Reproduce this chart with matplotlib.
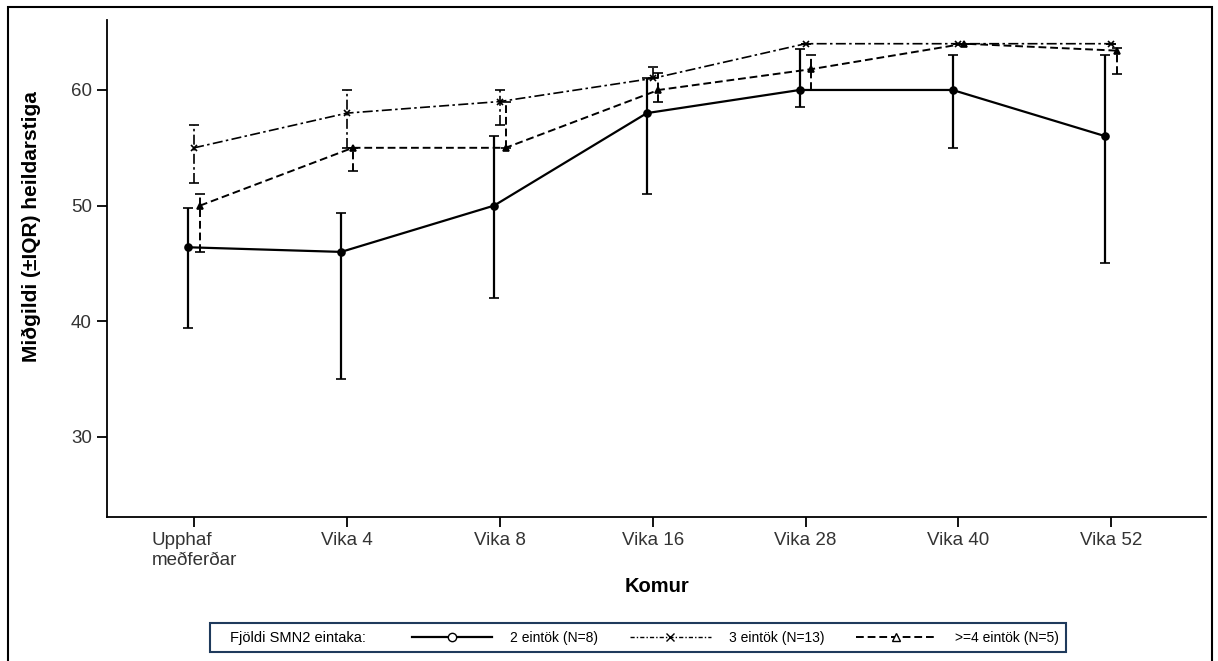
import matplotlib
matplotlib.use('Agg')
import matplotlib.pyplot as plt
import numpy as np
from matplotlib.lines import Line2D
from matplotlib.patches import Rectangle

plt.rcParams['font.family'] = ['Liberation Sans', 'DejaVu Sans']

visits = ['Upphaf\nmeðferðar', 'Vika 4', 'Vika 8', 'Vika 16', 'Vika 28', 'Vika 40', 'Vika 52']

# 2 eintök (N=8)
median_2 = [46.4, 46.0, 50.0, 58.0, 60.0, 60.0, 56.0]
q1_2 = [39.4, 35.0, 42.0, 51.0, 58.5, 55.0, 45.0]
q3_2 = [49.8, 49.4, 56.0, 61.0, 63.5, 63.0, 63.0]

# 3 eintök (N=13)
median_3 = [55.0, 58.0, 59.0, 61.0, 64.0, 64.0, 64.0]
q1_3 = [52.0, 55.0, 57.0, 61.0, 64.0, 64.0, 64.0]
q3_3 = [57.0, 60.0, 60.0, 62.0, 64.0, 64.0, 64.0]

# >=4 eintök (N=5)
median_4 = [50.0, 55.0, 55.0, 60.0, 61.8, 64.0, 63.4]
q1_4 = [46.0, 53.0, 55.0, 59.0, 60.0, 64.0, 61.4]
q3_4 = [51.0, 55.0, 59.0, 61.5, 63.0, 64.0, 63.6]

labels = ['2 eintök (N=8)', '3 eintök (N=13)', '>=4 eintök (N=5)']

series = [
    (median_2, q1_2, q3_2, -0.038, '-', 'o', 1.6),
    (median_3, q1_3, q3_3, 0.0, (0, (6, 2, 1.5, 2)), 'x', 1.2),
    (median_4, q1_4, q3_4, 0.038, (0, (4, 2)), '^', 1.4),
]

fig = plt.figure(figsize=(12.18, 6.61), dpi=100)
ax = fig.add_axes([107 / 1218, 1 - 517 / 661, (1206 - 107) / 1218, (517 - 20) / 661])

x = np.arange(len(visits))
for med, q1, q3, off, ls, mk, lw in series:
    med = np.array(med)
    err = [med - np.array(q1), np.array(q3) - med]
    cont = ax.errorbar(x + off, med, yerr=err, color='black', linestyle=ls, linewidth=lw,
                       marker=mk, markersize=5, markeredgewidth=1.2,
                       capsize=3.5, capthick=1.4, elinewidth=lw)
    for bar in cont.lines[2]:
        bar.set_linestyle(ls)

ax.set_xlim(-0.57, 6.62)
ax.set_ylim(23.08, 66.05)
ax.set_yticks([30, 40, 50, 60])
ax.set_xticks(x)
ax.set_xticklabels(visits, multialignment='left')
ax.tick_params(labelsize=13.5, labelcolor='#333333', width=1.3, length=7, pad=4)
ax.spines['top'].set_visible(False)
ax.spines['right'].set_visible(False)
ax.spines['left'].set_linewidth(1.3)
ax.spines['bottom'].set_linewidth(1.3)
ax.set_xlabel('Komur', fontsize=14.5, fontweight='bold', labelpad=6)
ax.set_ylabel('Miðgildi (±IQR) heildarstiga', fontsize=15, fontweight='bold')
ax.yaxis.set_label_coords(-0.060, 0.585)

# outer frame
fig.patches.append(Rectangle((8 / 1218, -0.01), (1212 - 8) / 1218, 1.01 - 7 / 661,
                             transform=fig.transFigure, fill=False, edgecolor='black', linewidth=1.5))

# legend box
fig.patches.append(Rectangle((210 / 1218, 1 - 652 / 661), (1066 - 210) / 1218, 29 / 661,
                             transform=fig.transFigure, fill=False, edgecolor='#1f3a5c', linewidth=1.5))
fig.text(230 / 1218, 1 - 638 / 661, 'Fjöldi SMN2 eintaka:', fontsize=10.5, va='center')

handles = [
    Line2D([], [], color='black', linestyle='-', linewidth=1.6, marker='o', markersize=6, markerfacecolor='white'),
    Line2D([], [], color='black', linestyle=(0, (3, 1.5, 1, 1.5)), linewidth=1.0, marker='x', markersize=6),
    Line2D([], [], color='black', linestyle=(0, (4, 2)), linewidth=1.4, marker='^', markersize=6, markerfacecolor='white'),
]
fig.legend(handles, labels, loc='center left', bbox_to_anchor=(399 / 1218, 1 - 638 / 661),
           ncol=3, frameon=False, fontsize=10, handlelength=5.8, handletextpad=1.3, columnspacing=2.3)

fig.savefig('out.png', dpi=100)
